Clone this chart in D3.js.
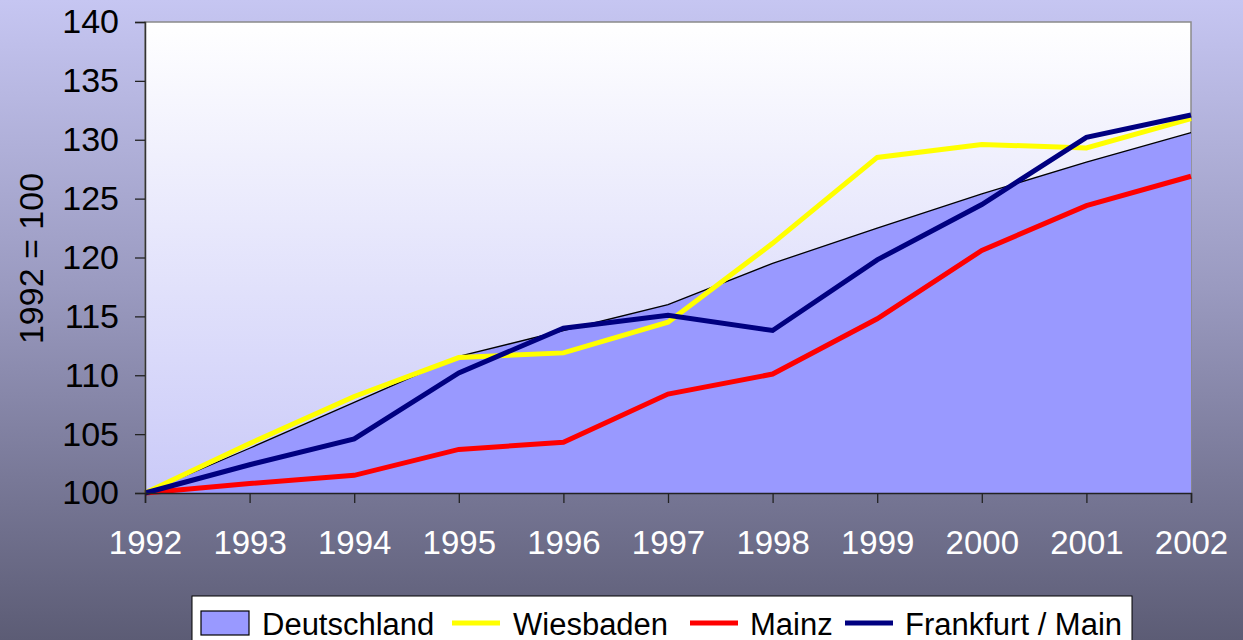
<!DOCTYPE html>
<html>
<head>
<meta charset="utf-8">
<script src="https://cdn.jsdelivr.net/npm/d3@7"></script>
<style>
  html, body { margin: 0; padding: 0; overflow: hidden; }
  svg { display: block; font-family: "Liberation Sans", Arial, sans-serif; }
</style>
</head>
<body>
<svg id="chart" width="1243" height="640"></svg>
<script>
const years = [1992, 1993, 1994, 1995, 1996, 1997, 1998, 1999, 2000, 2001, 2002];
const deutschland = [100, 103.8, 107.7, 111.6, 113.8, 116.0, 119.5, 122.5, 125.4, 128.1, 130.6];
const wiesbaden = [100, 104.2, 108.2, 111.5, 111.9, 114.5, 121.2, 128.5, 129.6, 129.3, 131.8];
const mainz = [100, 100.8, 101.5, 103.7, 104.3, 108.4, 110.1, 114.8, 120.6, 124.4, 126.9];
const frankfurt = [100, 102.4, 104.6, 110.2, 114.0, 115.1, 113.8, 119.8, 124.5, 130.2, 132.1];
const yTicks = [100, 105, 110, 115, 120, 125, 130, 135, 140];

const svg = d3.select("#chart");
const width = 1243, height = 640;
const margin = { left: 145, right: 52, top: 22, bottom: 147 };

// gradients
const defs = svg.append("defs");
const bgGrad = defs.append("linearGradient").attr("id", "bgGrad")
  .attr("x1", 0).attr("y1", 0).attr("x2", 0).attr("y2", 1);
bgGrad.append("stop").attr("offset", "0%").attr("stop-color", "#c6c6f2");
bgGrad.append("stop").attr("offset", "45%").attr("stop-color", "#9a9ac0");
bgGrad.append("stop").attr("offset", "100%").attr("stop-color", "#5c5c75");

const plotGrad = defs.append("linearGradient").attr("id", "plotGrad")
  .attr("x1", 0).attr("y1", 0).attr("x2", 0).attr("y2", 1);
plotGrad.append("stop").attr("offset", "0%").attr("stop-color", "#ffffff");
plotGrad.append("stop").attr("offset", "100%").attr("stop-color", "#cacaf8");

svg.append("rect").attr("width", width).attr("height", height).attr("fill", "url(#bgGrad)");

const x = d3.scaleLinear()
  .domain([1992, 2002])
  .range([margin.left, width - margin.right]);
const y = d3.scaleLinear()
  .domain([100, 140])
  .range([height - margin.bottom, margin.top]);

// plot area
svg.append("rect")
  .attr("x", x(1992)).attr("y", y(140))
  .attr("width", x(2002) - x(1992)).attr("height", y(100) - y(140))
  .attr("fill", "url(#plotGrad)")
  .attr("stroke", "#8a8a8a").attr("stroke-width", 1.5);

// Deutschland area
const area = d3.area()
  .x((d, i) => x(years[i]))
  .y0(y(100))
  .y1(d => y(d));
svg.append("path")
  .datum(deutschland)
  .attr("d", area)
  .attr("fill", "#9999ff");
svg.append("path")
  .datum(deutschland)
  .attr("d", d3.line().x((d, i) => x(years[i])).y(d => y(d)))
  .attr("fill", "none")
  .attr("stroke", "#000")
  .attr("stroke-width", 1.3);

const line = d3.line()
  .x((d, i) => x(years[i]))
  .y(d => y(d));

const series = [
  { name: "Wiesbaden", values: wiesbaden, color: "#ffff00" },
  { name: "Mainz", values: mainz, color: "#ff0000" },
  { name: "Frankfurt / Main", values: frankfurt, color: "#000080" }
];

series.forEach(s => {
  svg.append("path")
    .datum(s.values)
    .attr("d", line)
    .attr("fill", "none")
    .attr("stroke", s.color)
    .attr("stroke-width", 5)
    .attr("stroke-linejoin", "miter");
});

// axes
const yAxis = svg.append("g")
  .attr("transform", `translate(${x(1992)},0)`)
  .call(d3.axisLeft(y).tickValues(yTicks).tickSize(10).tickPadding(16));
yAxis.select(".domain").attr("stroke", "#333").attr("stroke-width", 1.5);
yAxis.selectAll(".tick line").attr("stroke", "#222").attr("stroke-width", 1.3);
yAxis.selectAll(".tick text")
  .attr("fill", "#000")
  .style("font-size", "34px")
  .style("font-family", "'Liberation Sans', Arial, sans-serif");

const xAxis = svg.append("g")
  .attr("transform", `translate(0,${y(100)})`)
  .call(d3.axisBottom(x).tickValues(years).tickFormat(d3.format("d")).tickSize(10).tickPadding(28));
xAxis.select(".domain").attr("stroke", "#222").attr("stroke-width", 1.5);
xAxis.selectAll(".tick line").attr("stroke", "#222").attr("stroke-width", 1.3);
xAxis.selectAll(".tick text")
  .attr("fill", "#fff")
  .style("font-size", "33px")
  .style("font-family", "'Liberation Sans', Arial, sans-serif");

// y title
svg.append("text")
  .attr("transform", `translate(43,${(y(100) + y(140)) / 2 + 1}) rotate(-90)`)
  .attr("text-anchor", "middle")
  .style("font-size", "34px")
  .attr("fill", "#000")
  .text("1992 = 100");

// legend
const legend = svg.append("g");
legend.append("rect")
  .attr("x", 192).attr("y", 596)
  .attr("width", 940).attr("height", 60)
  .attr("fill", "#fff")
  .attr("stroke", "#000").attr("stroke-width", 1);

legend.append("rect")
  .attr("x", 201).attr("y", 611)
  .attr("width", 48).attr("height", 24)
  .attr("fill", "#9999ff")
  .attr("stroke", "#000").attr("stroke-width", 1.2);
legend.append("text")
  .attr("x", 262).attr("y", 635)
  .style("font-size", "31px")
  .text("Deutschland");

const legendItems = [
  { s: series[0], lx: 452, tx: 513 },
  { s: series[1], lx: 690, tx: 750 },
  { s: series[2], lx: 845, tx: 905 }
];
legendItems.forEach(d => {
  legend.append("line")
    .attr("x1", d.lx).attr("x2", d.lx + 48)
    .attr("y1", 623).attr("y2", 623)
    .attr("stroke", d.s.color)
    .attr("stroke-width", 5);
  legend.append("text")
    .attr("x", d.tx).attr("y", 635)
    .style("font-size", "31px")
    .text(d.s.name);
});
</script>
</body>
</html>
